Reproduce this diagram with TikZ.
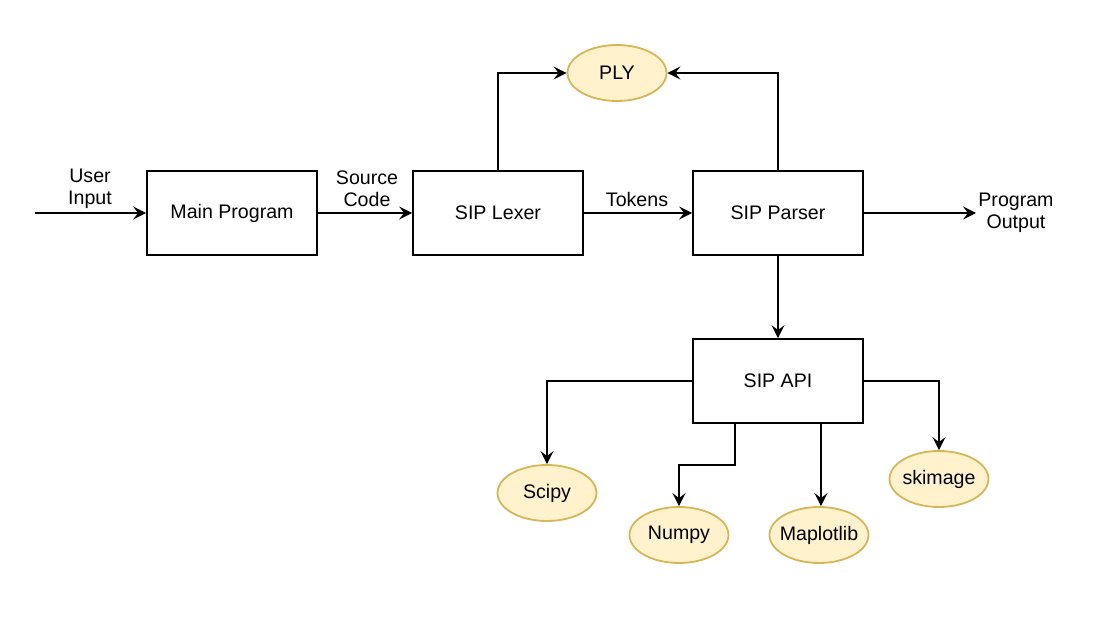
\documentclass[tikz,border=0pt]{standalone}
\usepackage{fontspec}
\setmainfont{Liberation Sans}
\usetikzlibrary{shapes.geometric,arrows.meta,calc}
\definecolor{libfill}{HTML}{FFF2CC}
\definecolor{libline}{HTML}{D6B656}
\begin{document}
\begin{tikzpicture}[x=0.5pt,y=-0.5pt,
  every node/.style={font=\fontsize{9.8}{11}\selectfont},
  blk/.style={rectangle,draw=black,line width=0.9pt,minimum width=85pt,minimum height=42pt,inner sep=0pt},
  lib/.style={ellipse,draw=libline,fill=libfill,line width=0.9pt,minimum width=49.5pt,minimum height=28pt,inner sep=0pt},
  lbl/.style={align=center,inner sep=1pt},
  arr/.style={-{Stealth[length=6.5pt,width=6.5pt,inset=2.5pt]},line width=0.9pt}]
\useasboundingbox (0,0) rectangle (1100,624);
% blocks
\node[blk] (main)   at (232,213) {Main Program};
\node[blk] (lexer)  at (498,213) {SIP Lexer};
\node[blk] (parser) at (778,213) {SIP Parser};
\node[blk] (api)    at (778,381) {SIP API};
% libraries
\node[lib] (ply) at (617,73) {\makebox[0pt]{PLY}};
\foreach \nm/\txt/\x/\y in {scipy/Scipy/547/493, numpy/Numpy/679/535,
    maplotlib/Maplotlib/819/535, skimage/skimage/939/479}
  \node[lib] (\nm) at (\x,\y) {\makebox[0pt]{\txt}};
% labels
\coordinate (in) at (35,213);
\node[lbl] (userin) at (90,189)  {User\\Input};
\node[lbl] (src)    at (367,189) {Source\\Code};
\node[lbl] (tok)    at (637,200) {Tokens};
\node[lbl,anchor=west] (out) at (976,213) {Program\\Output};
% connectors
\draw[arr] (in) -- (main);
\draw[arr] (main) -- (lexer);
\draw[arr] (lexer) -- (parser);
\draw[arr] (parser) -- (out);
\draw[arr] (lexer.north) |- (ply.west);
\draw[arr] (parser.north) |- (ply.east);
\draw[arr] (parser) -- (api);
\draw[arr] (api.west) -| (scipy.north);
\coordinate (a1) at ($(api.south west)!0.25!(api.south east)$);
\coordinate (a3) at ($(api.south west)!0.75!(api.south east)$);
\draw[arr] (a1) |- ($(a1)!0.5!(numpy.north)$) -| (numpy.north);
\draw[arr] (a3) -- (a3 |- maplotlib.north);
\draw[arr] (api.east) -| (skimage.north);
\end{tikzpicture}
\end{document}
